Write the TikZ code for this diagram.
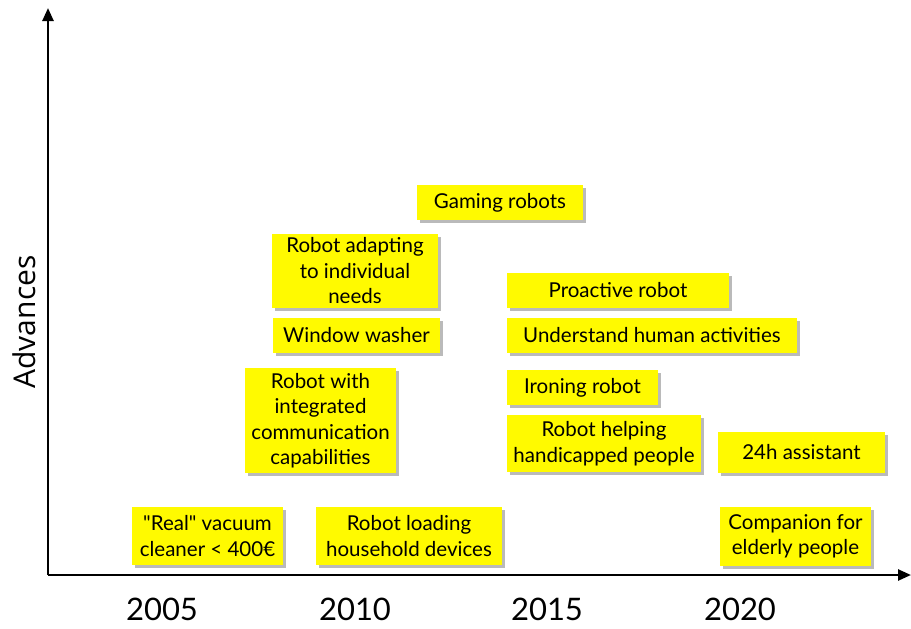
\documentclass[tikz,border=0pt]{standalone}
\usepackage{fontspec}
\setmainfont{Lato}[Ligatures=TeXOff]
\newfontfamily\axisfont{Open Sans}
\usetikzlibrary{arrows.meta,shadows,positioning}
\definecolor{noteyellow}{RGB}{255,250,0}

\begin{document}
\begin{tikzpicture}[x=1pt, y=-1pt,
    note/.style={fill=noteyellow, align=center, inner sep=2pt,
      font=\fontsize{20.5}{25.5}\selectfont,
      drop shadow={shadow xshift=3pt, shadow yshift=-3pt, fill=black!60, opacity=.45}},
    year/.style={font=\fontsize{31}{36}\selectfont},
    axis/.style={line width=2.5pt, -{Triangle[length=13pt,width=11pt]}}]
    \useasboundingbox (0,0) rectangle (911,629);
    % axes
    \coordinate (o) at (48,575);
    \coordinate (top) at (48,8);
    \coordinate (right) at (911,575);
    \draw [axis] (o) -- (top);
    \draw [axis] (o) -- (right);
    \node [rotate=90, font=\axisfont\fontsize{30}{36}\selectfont] (adv) at (24,322) {Advances};
    \node [year] (y05) at (162,609) {2005};
    \node [year] (y10) at (355,609) {2010};
    \node [year] (y15) at (547,609) {2015};
    \node [year] (y20) at (740,609) {2020};
    % notes
    \node [note, minimum width=166, minimum height=35] (gaming) at (500,202.5) {Gaming robots};
    \node [note, minimum width=166, minimum height=74] (adapt) at (355,271) {Robot adapting\\to individual\\needs};
    \node [note, minimum width=167, minimum height=35] (window) at (356.5,335.5) {Window washer};
    \node [note, minimum width=151, minimum height=105] (comm) at (320.5,420.5) {Robot with\\integrated\\communication\\capabilities};
    \node [note, minimum width=222, minimum height=35] (proactive) at (618,290.5) {Proactive robot};
    \node [note, minimum width=290, minimum height=35] (understand) at (652,335.5) {Understand human activities};
    \node [note, minimum width=151, minimum height=35] (ironing) at (582.5,387.5) {Ironing robot};
    \node [note, minimum width=194, minimum height=57] (helping) at (604,443.5) {Robot helping\\handicapped people};
    \node [note, minimum width=167, minimum height=41] (assist) at (801.5,452.5) {24h assistant};
    \node [note, minimum width=151, minimum height=58] (vacuum) at (207.5,536) {"Real" vacuum\\cleaner < 400€};
    \node [note, minimum width=186, minimum height=58] (loading) at (409,536) {Robot loading\\household devices};
    \node [note, minimum width=151, minimum height=59] (companion) at (795.5,536.5) {Companion for\\elderly people};
\end{tikzpicture}
\end{document}
